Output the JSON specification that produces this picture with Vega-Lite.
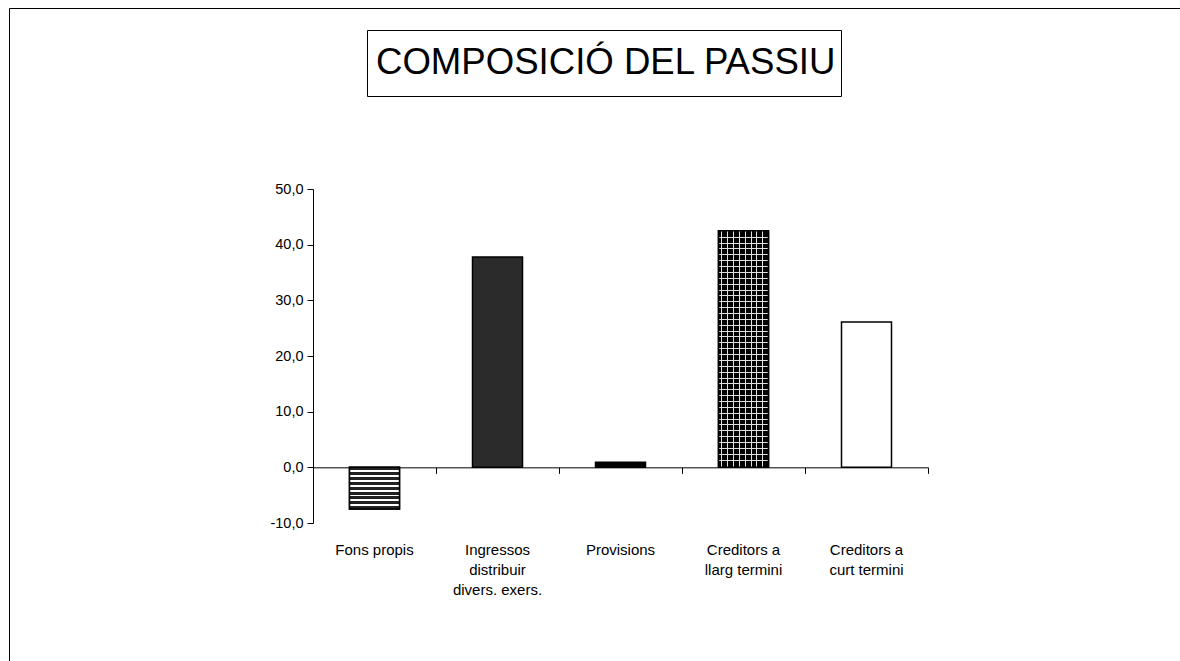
{
  "$schema": "https://vega.github.io/schema/vega-lite/v6.json",
  "width": 615,
  "height": 334,
  "autosize": "none",
  "padding": {"left": 313, "top": 189, "right": 252, "bottom": 138},
  "background": "white",
  "config": {
    "font": "Liberation Sans",
    "view": {"stroke": null},
    "locale": {"number": {"decimal": ",", "thousands": ".", "grouping": [3], "currency": ["", " €"], "minus": "-"}}
  },
  "data": {"values": [
    {"item": "Fons propis", "value": -7.5},
    {"item": "Ingressos distribuir divers. exers.", "value": 37.8},
    {"item": "Provisions", "value": 0.9},
    {"item": "Creditors a llarg termini", "value": 42.5},
    {"item": "Creditors a curt termini", "value": 26.1}
  ]},
  "resolve": {"scale": {"x": "shared", "y": "shared"}, "axis": {"x": "independent", "y": "independent"}},
  "layer": [
    {
      "mark": {"type": "bar", "stroke": "black", "strokeWidth": 1.5, "width": {"band": 0.4065}},
      "encoding": {
        "x": {"field": "item", "type": "nominal", "sort": null,
          "scale": {"type": "band", "paddingInner": 0, "paddingOuter": 0},
          "axis": {"orient": "bottom", "offset": -55.67, "labels": false, "tickBand": "extent", "tickSize": 6, "domainColor": "black", "tickColor": "black", "title": null, "grid": false}},
        "y": {"field": "value", "type": "quantitative",
          "scale": {"domain": [-10, 50], "nice": false, "zero": false},
          "axis": {"orient": "left", "values": [-10, 0, 10, 20, 30, 40, 50], "format": ".1f", "title": null, "grid": false, "tickSize": 6, "labelPadding": 4, "labelFontSize": 14.5, "labelColor": "black", "domainColor": "black", "tickColor": "black", "labelFlush": false}},
        "fill": {"field": "item", "type": "nominal", "legend": null,
          "scale": {"domain": ["Fons propis", "Ingressos distribuir divers. exers.", "Provisions", "Creditors a llarg termini", "Creditors a curt termini"], "range": ["#222222", "#2b2b2b", "#000000", "#000000", "#ffffff"]}}
      }
    },
    {
      "transform": [{"filter": "datum.item === 'Fons propis'"}],
      "mark": {"type": "bar", "stroke": "black", "strokeWidth": 1.5, "width": {"band": 0.4065},
        "fill": {"gradient": "linear", "x1": 0, "y1": 0, "x2": 0, "y2": 1, "stops": [
          {"offset": 0, "color": "#222222"}, {"offset": 0.0698, "color": "#222222"},
          {"offset": 0.0698, "color": "#ffffff"}, {"offset": 0.1163, "color": "#ffffff"},
          {"offset": 0.1163, "color": "#222222"}, {"offset": 0.186, "color": "#222222"},
          {"offset": 0.186, "color": "#ffffff"}, {"offset": 0.2326, "color": "#ffffff"},
          {"offset": 0.2326, "color": "#222222"}, {"offset": 0.3023, "color": "#222222"},
          {"offset": 0.3023, "color": "#ffffff"}, {"offset": 0.3488, "color": "#ffffff"},
          {"offset": 0.3488, "color": "#222222"}, {"offset": 0.4186, "color": "#222222"},
          {"offset": 0.4186, "color": "#ffffff"}, {"offset": 0.4651, "color": "#ffffff"},
          {"offset": 0.4651, "color": "#222222"}, {"offset": 0.5349, "color": "#222222"},
          {"offset": 0.5349, "color": "#ffffff"}, {"offset": 0.5814, "color": "#ffffff"},
          {"offset": 0.5814, "color": "#222222"}, {"offset": 0.6512, "color": "#222222"},
          {"offset": 0.6512, "color": "#ffffff"}, {"offset": 0.6977, "color": "#ffffff"},
          {"offset": 0.6977, "color": "#222222"}, {"offset": 0.7674, "color": "#222222"},
          {"offset": 0.7674, "color": "#ffffff"}, {"offset": 0.814, "color": "#ffffff"},
          {"offset": 0.814, "color": "#222222"}, {"offset": 0.8837, "color": "#222222"},
          {"offset": 0.8837, "color": "#ffffff"}, {"offset": 0.9302, "color": "#ffffff"},
          {"offset": 0.9302, "color": "#222222"}, {"offset": 1, "color": "#222222"}
        ]}},
      "encoding": {
        "x": {"field": "item", "type": "nominal", "sort": null,
          "axis": {"orient": "bottom", "offset": 19, "domain": false, "ticks": false, "tickSize": 0, "labelPadding": 0, "labelFontSize": 15, "labelLineHeight": 20, "labelColor": "black", "labelAngle": 0, "labelLimit": 300, "labelOverlap": false, "title": null, "grid": false,
            "labelExpr": "datum.value == 'Ingressos distribuir divers. exers.' ? ['Ingressos', 'distribuir', 'divers. exers.'] : datum.value == 'Creditors a llarg termini' ? ['Creditors a', 'llarg termini'] : datum.value == 'Creditors a curt termini' ? ['Creditors a', 'curt termini'] : datum.value"}},
        "y": {"field": "value", "type": "quantitative", "axis": null}
      }
    },
    {
      "transform": [{"filter": "datum.item === 'Creditors a llarg termini'"}],
      "mark": {"type": "bar", "width": {"band": 0.4065},
        "fill": {"gradient": "linear", "x1": 0, "y1": 0, "x2": 1, "y2": 0, "stops": [
          {"offset": 0, "color": "rgba(255,255,255,0)"}, {"offset": 0.054, "color": "rgba(255,255,255,0)"},
          {"offset": 0.054, "color": "#e0e0e0"}, {"offset": 0.074, "color": "#e0e0e0"},
          {"offset": 0.074, "color": "rgba(255,255,255,0)"}, {"offset": 0.171, "color": "rgba(255,255,255,0)"},
          {"offset": 0.171, "color": "#e0e0e0"}, {"offset": 0.191, "color": "#e0e0e0"},
          {"offset": 0.191, "color": "rgba(255,255,255,0)"}, {"offset": 0.288, "color": "rgba(255,255,255,0)"},
          {"offset": 0.288, "color": "#e0e0e0"}, {"offset": 0.308, "color": "#e0e0e0"},
          {"offset": 0.308, "color": "rgba(255,255,255,0)"}, {"offset": 0.406, "color": "rgba(255,255,255,0)"},
          {"offset": 0.406, "color": "#e0e0e0"}, {"offset": 0.426, "color": "#e0e0e0"},
          {"offset": 0.426, "color": "rgba(255,255,255,0)"}, {"offset": 0.524, "color": "rgba(255,255,255,0)"},
          {"offset": 0.524, "color": "#e0e0e0"}, {"offset": 0.544, "color": "#e0e0e0"},
          {"offset": 0.544, "color": "rgba(255,255,255,0)"}, {"offset": 0.641, "color": "rgba(255,255,255,0)"},
          {"offset": 0.641, "color": "#e0e0e0"}, {"offset": 0.661, "color": "#e0e0e0"},
          {"offset": 0.661, "color": "rgba(255,255,255,0)"}, {"offset": 0.758, "color": "rgba(255,255,255,0)"},
          {"offset": 0.758, "color": "#e0e0e0"}, {"offset": 0.778, "color": "#e0e0e0"},
          {"offset": 0.778, "color": "rgba(255,255,255,0)"}, {"offset": 0.876, "color": "rgba(255,255,255,0)"},
          {"offset": 0.876, "color": "#e0e0e0"}, {"offset": 0.896, "color": "#e0e0e0"},
          {"offset": 0.896, "color": "rgba(255,255,255,0)"}, {"offset": 1, "color": "rgba(255,255,255,0)"}
        ]}},
      "encoding": {
        "x": {"field": "item", "type": "nominal", "sort": null, "axis": null},
        "y": {"field": "value", "type": "quantitative", "axis": null}
      }
    },
    {
      "transform": [{"filter": "datum.item === 'Creditors a llarg termini'"}],
      "mark": {"type": "bar", "stroke": "black", "strokeWidth": 1.5, "width": {"band": 0.4065},
        "fill": {"gradient": "linear", "x1": 0, "y1": 0, "x2": 0, "y2": 1, "stops": [
          {"offset": 0, "color": "rgba(255,255,255,0)"},
          {"offset": 0.0254, "color": "rgba(255,255,255,0)"}, {"offset": 0.0254, "color": "#e0e0e0"}, {"offset": 0.0297, "color": "#e0e0e0"}, {"offset": 0.0297, "color": "rgba(255,255,255,0)"},
          {"offset": 0.0502, "color": "rgba(255,255,255,0)"}, {"offset": 0.0502, "color": "#e0e0e0"}, {"offset": 0.0545, "color": "#e0e0e0"}, {"offset": 0.0545, "color": "rgba(255,255,255,0)"},
          {"offset": 0.075, "color": "rgba(255,255,255,0)"}, {"offset": 0.075, "color": "#e0e0e0"}, {"offset": 0.0792, "color": "#e0e0e0"}, {"offset": 0.0792, "color": "rgba(255,255,255,0)"},
          {"offset": 0.0998, "color": "rgba(255,255,255,0)"}, {"offset": 0.0998, "color": "#e0e0e0"}, {"offset": 0.104, "color": "#e0e0e0"}, {"offset": 0.104, "color": "rgba(255,255,255,0)"},
          {"offset": 0.1246, "color": "rgba(255,255,255,0)"}, {"offset": 0.1246, "color": "#e0e0e0"}, {"offset": 0.1288, "color": "#e0e0e0"}, {"offset": 0.1288, "color": "rgba(255,255,255,0)"},
          {"offset": 0.1494, "color": "rgba(255,255,255,0)"}, {"offset": 0.1494, "color": "#e0e0e0"}, {"offset": 0.1536, "color": "#e0e0e0"}, {"offset": 0.1536, "color": "rgba(255,255,255,0)"},
          {"offset": 0.1742, "color": "rgba(255,255,255,0)"}, {"offset": 0.1742, "color": "#e0e0e0"}, {"offset": 0.1784, "color": "#e0e0e0"}, {"offset": 0.1784, "color": "rgba(255,255,255,0)"},
          {"offset": 0.1989, "color": "rgba(255,255,255,0)"}, {"offset": 0.1989, "color": "#e0e0e0"}, {"offset": 0.2032, "color": "#e0e0e0"}, {"offset": 0.2032, "color": "rgba(255,255,255,0)"},
          {"offset": 0.2237, "color": "rgba(255,255,255,0)"}, {"offset": 0.2237, "color": "#e0e0e0"}, {"offset": 0.228, "color": "#e0e0e0"}, {"offset": 0.228, "color": "rgba(255,255,255,0)"},
          {"offset": 0.2485, "color": "rgba(255,255,255,0)"}, {"offset": 0.2485, "color": "#e0e0e0"}, {"offset": 0.2528, "color": "#e0e0e0"}, {"offset": 0.2528, "color": "rgba(255,255,255,0)"},
          {"offset": 0.2733, "color": "rgba(255,255,255,0)"}, {"offset": 0.2733, "color": "#e0e0e0"}, {"offset": 0.2775, "color": "#e0e0e0"}, {"offset": 0.2775, "color": "rgba(255,255,255,0)"},
          {"offset": 0.2981, "color": "rgba(255,255,255,0)"}, {"offset": 0.2981, "color": "#e0e0e0"}, {"offset": 0.3023, "color": "#e0e0e0"}, {"offset": 0.3023, "color": "rgba(255,255,255,0)"},
          {"offset": 0.3229, "color": "rgba(255,255,255,0)"}, {"offset": 0.3229, "color": "#e0e0e0"}, {"offset": 0.3271, "color": "#e0e0e0"}, {"offset": 0.3271, "color": "rgba(255,255,255,0)"},
          {"offset": 0.3477, "color": "rgba(255,255,255,0)"}, {"offset": 0.3477, "color": "#e0e0e0"}, {"offset": 0.3519, "color": "#e0e0e0"}, {"offset": 0.3519, "color": "rgba(255,255,255,0)"},
          {"offset": 0.3725, "color": "rgba(255,255,255,0)"}, {"offset": 0.3725, "color": "#e0e0e0"}, {"offset": 0.3767, "color": "#e0e0e0"}, {"offset": 0.3767, "color": "rgba(255,255,255,0)"},
          {"offset": 0.3972, "color": "rgba(255,255,255,0)"}, {"offset": 0.3972, "color": "#e0e0e0"}, {"offset": 0.4015, "color": "#e0e0e0"}, {"offset": 0.4015, "color": "rgba(255,255,255,0)"},
          {"offset": 0.422, "color": "rgba(255,255,255,0)"}, {"offset": 0.422, "color": "#e0e0e0"}, {"offset": 0.4263, "color": "#e0e0e0"}, {"offset": 0.4263, "color": "rgba(255,255,255,0)"},
          {"offset": 0.4468, "color": "rgba(255,255,255,0)"}, {"offset": 0.4468, "color": "#e0e0e0"}, {"offset": 0.4511, "color": "#e0e0e0"}, {"offset": 0.4511, "color": "rgba(255,255,255,0)"},
          {"offset": 0.4716, "color": "rgba(255,255,255,0)"}, {"offset": 0.4716, "color": "#e0e0e0"}, {"offset": 0.4758, "color": "#e0e0e0"}, {"offset": 0.4758, "color": "rgba(255,255,255,0)"},
          {"offset": 0.4964, "color": "rgba(255,255,255,0)"}, {"offset": 0.4964, "color": "#e0e0e0"}, {"offset": 0.5006, "color": "#e0e0e0"}, {"offset": 0.5006, "color": "rgba(255,255,255,0)"},
          {"offset": 0.5212, "color": "rgba(255,255,255,0)"}, {"offset": 0.5212, "color": "#e0e0e0"}, {"offset": 0.5254, "color": "#e0e0e0"}, {"offset": 0.5254, "color": "rgba(255,255,255,0)"},
          {"offset": 0.546, "color": "rgba(255,255,255,0)"}, {"offset": 0.546, "color": "#e0e0e0"}, {"offset": 0.5502, "color": "#e0e0e0"}, {"offset": 0.5502, "color": "rgba(255,255,255,0)"},
          {"offset": 0.5708, "color": "rgba(255,255,255,0)"}, {"offset": 0.5708, "color": "#e0e0e0"}, {"offset": 0.575, "color": "#e0e0e0"}, {"offset": 0.575, "color": "rgba(255,255,255,0)"},
          {"offset": 0.5956, "color": "rgba(255,255,255,0)"}, {"offset": 0.5956, "color": "#e0e0e0"}, {"offset": 0.5998, "color": "#e0e0e0"}, {"offset": 0.5998, "color": "rgba(255,255,255,0)"},
          {"offset": 0.6203, "color": "rgba(255,255,255,0)"}, {"offset": 0.6203, "color": "#e0e0e0"}, {"offset": 0.6246, "color": "#e0e0e0"}, {"offset": 0.6246, "color": "rgba(255,255,255,0)"},
          {"offset": 0.6451, "color": "rgba(255,255,255,0)"}, {"offset": 0.6451, "color": "#e0e0e0"}, {"offset": 0.6494, "color": "#e0e0e0"}, {"offset": 0.6494, "color": "rgba(255,255,255,0)"},
          {"offset": 0.6699, "color": "rgba(255,255,255,0)"}, {"offset": 0.6699, "color": "#e0e0e0"}, {"offset": 0.6742, "color": "#e0e0e0"}, {"offset": 0.6742, "color": "rgba(255,255,255,0)"},
          {"offset": 0.6947, "color": "rgba(255,255,255,0)"}, {"offset": 0.6947, "color": "#e0e0e0"}, {"offset": 0.6989, "color": "#e0e0e0"}, {"offset": 0.6989, "color": "rgba(255,255,255,0)"},
          {"offset": 0.7195, "color": "rgba(255,255,255,0)"}, {"offset": 0.7195, "color": "#e0e0e0"}, {"offset": 0.7237, "color": "#e0e0e0"}, {"offset": 0.7237, "color": "rgba(255,255,255,0)"},
          {"offset": 0.7443, "color": "rgba(255,255,255,0)"}, {"offset": 0.7443, "color": "#e0e0e0"}, {"offset": 0.7485, "color": "#e0e0e0"}, {"offset": 0.7485, "color": "rgba(255,255,255,0)"},
          {"offset": 0.7691, "color": "rgba(255,255,255,0)"}, {"offset": 0.7691, "color": "#e0e0e0"}, {"offset": 0.7733, "color": "#e0e0e0"}, {"offset": 0.7733, "color": "rgba(255,255,255,0)"},
          {"offset": 0.7939, "color": "rgba(255,255,255,0)"}, {"offset": 0.7939, "color": "#e0e0e0"}, {"offset": 0.7981, "color": "#e0e0e0"}, {"offset": 0.7981, "color": "rgba(255,255,255,0)"},
          {"offset": 0.8186, "color": "rgba(255,255,255,0)"}, {"offset": 0.8186, "color": "#e0e0e0"}, {"offset": 0.8229, "color": "#e0e0e0"}, {"offset": 0.8229, "color": "rgba(255,255,255,0)"},
          {"offset": 0.8434, "color": "rgba(255,255,255,0)"}, {"offset": 0.8434, "color": "#e0e0e0"}, {"offset": 0.8477, "color": "#e0e0e0"}, {"offset": 0.8477, "color": "rgba(255,255,255,0)"},
          {"offset": 0.8682, "color": "rgba(255,255,255,0)"}, {"offset": 0.8682, "color": "#e0e0e0"}, {"offset": 0.8725, "color": "#e0e0e0"}, {"offset": 0.8725, "color": "rgba(255,255,255,0)"},
          {"offset": 0.893, "color": "rgba(255,255,255,0)"}, {"offset": 0.893, "color": "#e0e0e0"}, {"offset": 0.8972, "color": "#e0e0e0"}, {"offset": 0.8972, "color": "rgba(255,255,255,0)"},
          {"offset": 0.9178, "color": "rgba(255,255,255,0)"}, {"offset": 0.9178, "color": "#e0e0e0"}, {"offset": 0.922, "color": "#e0e0e0"}, {"offset": 0.922, "color": "rgba(255,255,255,0)"},
          {"offset": 0.9426, "color": "rgba(255,255,255,0)"}, {"offset": 0.9426, "color": "#e0e0e0"}, {"offset": 0.9468, "color": "#e0e0e0"}, {"offset": 0.9468, "color": "rgba(255,255,255,0)"},
          {"offset": 0.9674, "color": "rgba(255,255,255,0)"}, {"offset": 0.9674, "color": "#e0e0e0"}, {"offset": 0.9716, "color": "#e0e0e0"}, {"offset": 0.9716, "color": "rgba(255,255,255,0)"},
          {"offset": 1, "color": "rgba(255,255,255,0)"}
        ]}},
      "encoding": {
        "x": {"field": "item", "type": "nominal", "sort": null, "axis": null},
        "y": {"field": "value", "type": "quantitative", "axis": null}
      }
    },
    {
      "mark": {"type": "point", "opacity": 0, "size": 0},
      "encoding": {
        "color": {"datum": "COMPOSICIÓ DEL PASSIU", "type": "nominal", "scale": {"range": ["black"]},
          "legend": {"orient": "none", "legendX": 54, "legendY": -159, "title": null, "strokeColor": "black", "padding": 4,
            "symbolSize": 3364, "symbolOpacity": 0, "symbolStrokeWidth": 0, "symbolType": "circle", "labelOffset": -53,
            "labelFontSize": 36.6, "labelFont": "Liberation Sans", "labelColor": "black", "labelLimit": 2000}}
      }
    },
    {
      "mark": {"type": "point", "opacity": 0, "size": 0},
      "encoding": {
        "shape": {"datum": " ", "type": "nominal",
          "legend": {"orient": "none", "legendX": -304, "legendY": -181, "title": null, "strokeColor": "black", "padding": 1000,
            "symbolSize": 0, "symbolOpacity": 0, "symbolStrokeWidth": 0, "labelFontSize": 1}}
      }
    }
  ]
}
